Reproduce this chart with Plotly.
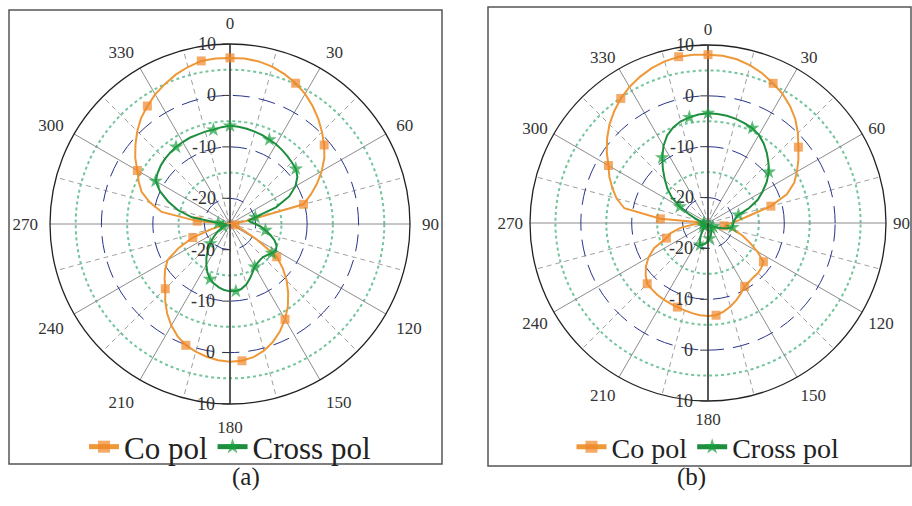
import plotly.graph_objects as go

# ---------------- data ----------------
angles = list(range(0, 360, 5))

co_pol_a = [7.3, 7.3, 7.1, 6.7, 6.0, 5.2, 4.2, 3.0, 1.7, 0.3,
            -1.1, -2.6, -4.4, -6.3, -8.3, -10.2, -22.0, -24.0, -25.0, -24.5,
            -24.0, -24.0, -23.5, -22.0, -19.0, -13.9, -11.6, -9.4, -7.4, -5.4,
            -3.6, -2.0, -0.6, 0.5, 1.3, 1.7, 1.8, 1.6, 1.2, 0.7,
            0.1, -0.9, -2.2, -3.7, -5.4, -7.2, -8.4, -9.6, -11.0, -14.0,
            -17.3, -21.5, -24.0, -25.0, -25.0, -18.6, -11.5, -8.9, -6.7, -5.4,
            -4.2, -2.5, -1.0, 0.5, 1.9, 3.0, 4.1, 5.0, 5.9, 6.6,
            7.2, 7.3]

cross_pol_a = [-5.9, -6.0, -6.2, -6.4, -6.6, -6.9, -7.1, -7.4, -7.7, -8.0,
               -8.3, -9.0, -10.3, -12.3, -15.5, -19.9, -21.3, -21.0, -20.0, -18.9,
               -18.0, -16.9, -15.8, -15.0, -14.7, -15.1, -15.6, -15.9, -15.9, -15.7,
               -15.4, -14.6, -13.7, -12.8, -12.2, -11.9, -11.9, -12.1, -12.5, -13.0,
               -13.6, -14.6, -15.8, -17.0, -18.3, -19.6, -20.6, -21.6, -22.5, -23.2,
               -23.6, -24.0, -24.2, -24.2, -24.0, -22.7, -17.5, -14.5, -12.2, -10.0,
               -8.3, -7.8, -7.4, -7.1, -6.9, -6.7, -6.6, -6.5, -6.5, -6.4,
               -6.4, -6.1]

co_pol_b = [8.1, 8.0, 7.7, 7.1, 6.3, 5.3, 4.3, 3.1, 1.7, 0.0,
            -1.8, -3.3, -4.8, -6.3, -8.5, -12.2, -16.8, -19.0, -20.4, -21.3,
            -21.8, -19.8, -17.8, -16.0, -13.8, -11.7, -11.3, -11.1, -11.1, -10.9,
            -10.6, -9.7, -8.8, -8.0, -7.3, -6.8, -6.7, -6.8, -7.0, -7.2,
            -7.4, -7.5, -7.6, -7.7, -7.9, -8.1, -9.0, -10.1, -11.5, -13.3,
            -16.3, -17.5, -19.5, -22.5, -25.0, -15.6, -8.3, -6.4, -5.0, -3.6,
            -2.4, -0.7, 0.9, 2.4, 3.7, 4.9, 5.9, 6.7, 7.4, 7.9,
            8.2, 8.2]

cross_pol_b = [-3.4, -3.5, -3.6, -3.8, -4.1, -4.4, -5.0, -5.9, -7.0, -8.2,
               -9.4, -10.9, -12.6, -14.2, -16.4, -18.8, -19.5, -19.8, -20.0, -20.1,
               -20.1, -21.0, -22.0, -22.8, -23.4, -23.8, -24.0, -24.1, -24.1, -24.0,
               -23.8, -23.5, -23.1, -22.7, -22.3, -21.9, -21.5, -21.1, -20.8, -20.5,
               -20.4, -21.2, -22.2, -23.0, -23.6, -24.0, -24.2, -24.3, -24.3, -24.2,
               -24.0, -23.8, -23.8, -23.9, -24.1, -24.2, -23.8, -23.2, -22.3, -20.8,
               -18.6, -16.4, -14.6, -13.0, -11.2, -9.3, -7.5, -6.0, -5.0, -4.3,
               -3.9, -3.6]

series_names = ["Co pol", "Cross pol"]
panel_labels = ["(a)", "(b)"]
angular_tick_values = list(range(0, 360, 30))
angular_tick_labels = [str(v) for v in angular_tick_values]
angular_minor_values = list(range(15, 360, 30))
radial_tick_values = [-20, -10, 0, 10]
radial_tick_labels = ["-20", "-10", "0", "10"]
radial_minor_values = [-15, -5, 5]
radial_range = [-25, 10]
marker_step_deg = 25

# ---------------- styling ----------------
SERIF = "Liberation Serif"
ORANGE_LINE = "#EE9838"
ORANGE_MARK = "#F0882A"
GREEN_LINE = "#1E8E3E"
GREEN_MARK = "#1A9E3E"
W, H = 912, 506


def closed(vals):
    return list(vals) + [vals[0]]


theta_closed = angles + [360]
marker_mask = [a % marker_step_deg == 0 for a in angles] + [False]

fig = go.Figure()

# empty traces so that the grid-only polar layers get drawn
for sp in ["polar", "polar2", "polar4", "polar5"]:
    fig.add_trace(go.Scatterpolar(r=[], theta=[], subplot=sp, showlegend=False,
                                  hoverinfo="skip", mode="lines"))


def add_series(r_vals, name, subplot, legend, line_color, mark_color, symbol, msize):
    fig.add_trace(go.Scatterpolar(
        r=closed(r_vals), theta=theta_closed, name=name, subplot=subplot,
        legend=legend, mode="lines+markers",
        line=dict(color=line_color, width=2),
        marker=dict(symbol=symbol, color=mark_color,
                    size=[msize if m else 0 for m in marker_mask],
                    line=dict(width=0)),
    ))


add_series(co_pol_a, series_names[0], "polar3", "legend", ORANGE_LINE, ORANGE_MARK, "square", 9)
add_series(cross_pol_a, series_names[1], "polar3", "legend", GREEN_LINE, GREEN_MARK, "star", 11)
add_series(co_pol_b, series_names[0], "polar6", "legend2", ORANGE_LINE, ORANGE_MARK, "square", 9)
add_series(cross_pol_b, series_names[1], "polar6", "legend2", GREEN_LINE, GREEN_MARK, "star", 11)


def base_polar(dom):
    return dict(
        domain=dom, bgcolor="white",
        angularaxis=dict(rotation=90, direction="clockwise", tickvals=angular_minor_values,
                         showticklabels=False, ticks="", showline=False,
                         gridcolor="#A0A0A0", griddash="5px,4px", gridwidth=1),
        radialaxis=dict(range=radial_range, tickvals=radial_minor_values, showticklabels=False,
                        ticks="", showline=False, gridcolor="#74C49C", griddash="3px,3px",
                        gridwidth=1.6),
    )


def main_polar(dom, ticklen):
    return dict(
        domain=dom, bgcolor="rgba(0,0,0,0)",
        angularaxis=dict(rotation=90, direction="clockwise", tickvals=angular_tick_values,
                         ticktext=angular_tick_labels,
                         tickfont=dict(family=SERIF, size=17, color="#333"),
                         ticks="outside", ticklen=ticklen, tickcolor="rgba(0,0,0,0)",
                         showline=True, linecolor="#222", linewidth=1.3,
                         gridcolor="#8C8C8C", gridwidth=1),
        radialaxis=dict(range=radial_range, angle=90, tickvals=radial_tick_values,
                        ticktext=radial_tick_labels, tickangle=90,
                        tickfont=dict(family=SERIF, size=18, color="#333"),
                        side="counterclockwise", showline=True, linecolor="#333",
                        linewidth=1.5, ticks="outside", ticklen=7, tickcolor="#333",
                        gridcolor="#27348A", griddash="17px,9px", gridwidth=1.4),
    )


def overlay_polar(dom):
    return dict(
        domain=dom, bgcolor="rgba(0,0,0,0)",
        angularaxis=dict(rotation=90, direction="clockwise", showgrid=False,
                         showticklabels=False, ticks="", showline=False),
        radialaxis=dict(range=radial_range, angle=270, tickvals=radial_tick_values,
                        ticktext=radial_tick_labels, tickangle=-90,
                        tickfont=dict(family=SERIF, size=18, color="#333"),
                        side="clockwise", showline=True, linecolor="#333", linewidth=1.5,
                        ticks="outside", ticklen=7, tickcolor="#333", showgrid=False),
    )


# left panel centre (230,224) radius 180 ; right panel centre (708,223) radius ~178
dom_a = dict(x=[50 / W, 410 / W], y=[1 - 404 / H, 1 - 44 / H])
dom_b = dict(x=[530 / W, 886 / W], y=[1 - 401 / H, 1 - 45 / H])

legend_common = dict(orientation="h", xanchor="center", yanchor="middle",
                     bgcolor="rgba(0,0,0,0)", itemsizing="constant",
                     itemwidth=30)

fig.update_layout(
    width=W, height=H, margin=dict(l=0, r=0, t=0, b=0),
    paper_bgcolor="white",
    polar=base_polar(dom_a), polar2=main_polar(dom_a, 8), polar3=overlay_polar(dom_a),
    polar4=base_polar(dom_b), polar5=main_polar(dom_b, 3), polar6=overlay_polar(dom_b),
    legend=dict(x=230 / W, y=1 - 447 / H, font=dict(family=SERIF, size=31, color="#222"),
                **legend_common),
    legend2=dict(x=708 / W, y=1 - 447 / H, font=dict(family=SERIF, size=28, color="#222"),
                 **legend_common),
    showlegend=True,
    shapes=[
        dict(type="rect", xref="paper", yref="paper", x0=9 / W, x1=442 / W,
             y0=1 - 464 / H, y1=1 - 10 / H, line=dict(color="#555", width=1.5), layer="above"),
        dict(type="rect", xref="paper", yref="paper", x0=488 / W, x1=911 / W,
             y0=1 - 466 / H, y1=1 - 7 / H, line=dict(color="#555", width=1.5), layer="above"),
    ],
    annotations=[
        dict(text=panel_labels[0], x=230 / W, y=1 - 493 / H, xref="paper", yref="paper",
             showarrow=False, font=dict(family=SERIF, size=25, color="#222")),
        dict(text=panel_labels[1], x=708 / W, y=1 - 493 / H, xref="paper", yref="paper",
             showarrow=False, font=dict(family=SERIF, size=25, color="#222")),
    ],
)

fig.write_html("out.html")
